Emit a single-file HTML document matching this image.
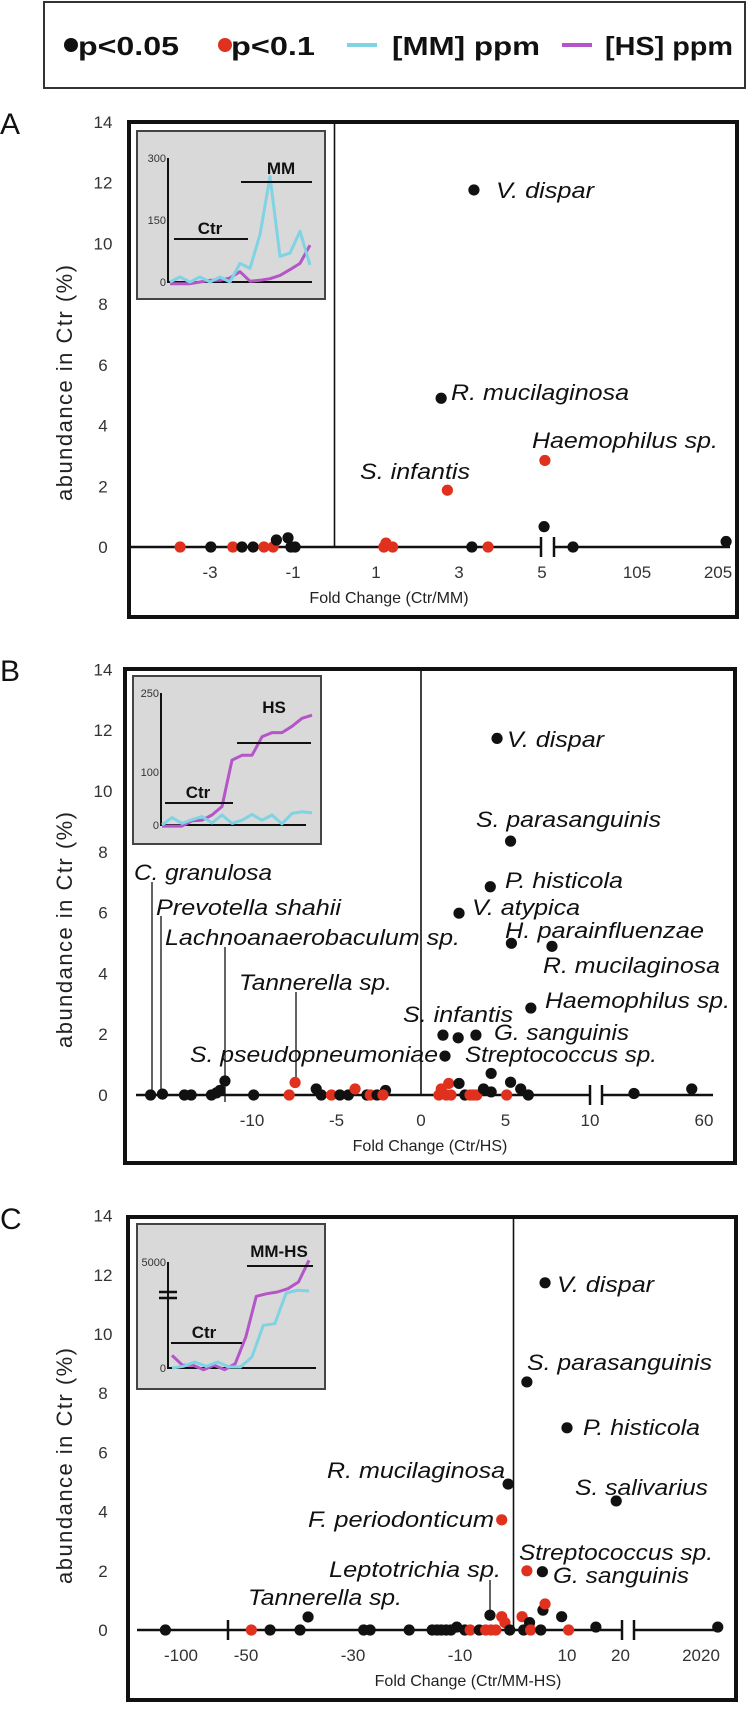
<!DOCTYPE html>
<html><head><meta charset="utf-8">
<style>
html,body{margin:0;padding:0;background:#fff;}
svg{display:block;font-family:"Liberation Sans",Arial,sans-serif;}
.tk{font-size:17px;fill:#333;}
.lab{font-size:22px;font-style:italic;fill:#111;}
.ib{font-size:17px;font-weight:bold;fill:#111;}
.it{font-size:11px;fill:#333;}
</style></head>
<body>
<svg id="fig" width="748" height="1717" viewBox="0 0 748 1717" xmlns="http://www.w3.org/2000/svg">
  <g>
    <rect x="44" y="2" width="701" height="86" fill="#fff" stroke="#333" stroke-width="2"/>
    <circle cx="71" cy="45" r="7" fill="#111"/>
    <text x="78" y="55" font-size="26" font-weight="bold" fill="#111" textLength="101" lengthAdjust="spacingAndGlyphs">p&lt;0.05</text>
    <circle cx="225" cy="45" r="7" fill="#e0301e"/>
    <text x="231" y="55" font-size="26" font-weight="bold" fill="#111" textLength="84" lengthAdjust="spacingAndGlyphs">p&lt;0.1</text>
    <line x1="347" y1="45" x2="377" y2="45" stroke="#7fd3e3" stroke-width="4"/>
    <text x="392" y="55" font-size="26" font-weight="bold" fill="#111" textLength="148" lengthAdjust="spacingAndGlyphs">[MM] ppm</text>
    <line x1="562" y1="45" x2="592" y2="45" stroke="#b455c8" stroke-width="4"/>
    <text x="605" y="55" font-size="26" font-weight="bold" fill="#111" textLength="128" lengthAdjust="spacingAndGlyphs">[HS] ppm</text>
  </g>
  <g id="pA"></g>
  <g id="pB"></g>
  <g id="pC"></g>
</svg>
<script>
// ---------- Panel A data ----------
const aX = [-3.72,-2.98,-2.45,-2.23,-1.96,-1.70,-1.48,-1.4,-1.12,-1.05,-0.95,1.19,1.24,1.4,3.31,3.7,2.72,5.07,5.05,26,215,3.36,2.57];
const aY = [0,0,0,0,0,0,0,0.23,0.3,0,0,0,0.13,0,0,0,1.87,2.85,0.67,0,0.18,11.76,4.9];
const aSig = [0,1,0,1,1,0,0,1,1,1,1,0,0,0,1,0,0,0,1,1,1,1,1];
const aTicks = [-3,-1,1,3,5,105,205];
const aInsetCyan = [0,12,0,12,0,12,0,45,33,115,255,62,70,123,41];
const aInsetPurple = [-4,-4,-4,0,4,4,10,25,2,4,8,16,30,45,89];

// ---------- Panel B data ----------
const bX = [-16,-15.3,-14,-13.6,-12.4,-12.1,-11.9,-11.6,-9.9,-7.8,-7.45,-6.2,-5.9,-5.3,-4.8,-4.3,-3.9,-3.2,-3.0,-2.6,-2.1,-2.25,1.06,1.2,1.5,1.64,1.77,2.25,2.6,2.9,3.1,3.3,3.7,4.15,4.15,5.07,5.3,5.9,6.35,25.7,54,
            4.5,5.3,4.1,2.25,5.35,7.75,6.5,1.3,2.2,3.25,1.42];
const bY = [0,0.03,0,0,0,0.07,0.15,0.46,0,0,0.41,0.2,0,0,0,0,0.2,0,0,0,0.15,0,0,0.2,0,0.38,0,0.38,0,0,0,0,0.2,0.71,0.1,0,0.42,0.2,0,0.05,0.2,
            11.73,8.35,6.85,5.98,4.99,4.89,2.86,1.97,1.88,1.97,1.28];
const bSig = [1,1,1,1,1,1,1,1,1,0,0,1,1,0,1,1,0,1,0,1,1,0,0,0,0,0,0,1,1,0,0,0,1,1,1,0,1,1,1,1,1,
              1,1,1,1,1,1,1,1,1,1,1];
const bTicks = [-10,-5,0,5,10,60];
const bInsetPurple = [-2,-2,-2,8,9,19,35,123,132,132,167,175,175,187,202,208];
const bInsetCyan = [0,14,3,10,16,4,19,3,9,20,9,19,2,22,25,23];

// ---------- Panel C data ----------
const cX = [-115,-49,-45.5,-39.9,-38.4,-28,-26.8,-19.5,-15.2,-14.3,-13.5,-12.6,-11.7,-10.6,-9.1,-8.1,-6.4,-5.2,-4.2,-4.4,-3.3,-2.2,-1.6,-0.7,1.6,1.9,3.0,3.2,5.1,5.5,5.9,9.0,10.3,15.4,2520,
            5.9,2.5,10.0,-1.0,19.2,-2.2,2.5,5.4];
const cY = [0,0,0,0,0.44,0,0,0,0,0,0,0,0,0.1,0,0,0,0,0,0.5,0,0.45,0.25,0,0.45,0,0.25,0,0,0.67,0.88,0.45,0,0.1,0.1,
            11.73,8.38,6.83,4.93,4.36,3.72,2.0,1.97];
const cSig = [1,0,1,1,1,1,1,1,1,1,1,1,1,1,1,0,1,0,0,1,0,0,0,1,0,1,1,0,1,1,0,1,0,1,1,
              1,1,1,1,1,0,0,1];
const cTicks = [-100,-50,-30,-10,10,20,2020];
const cInsetPurple = [597,126,126,-79,126,-79,204,1462,3380,3506,3585,3742,4057,5079];
const cInsetCyan = [0,79,283,79,283,47,47,519,2013,2091,3538,3664,3632];

const NS = "http://www.w3.org/2000/svg";
function mk(parent, tag, attrs, text){
  const e = document.createElementNS(NS, tag);
  for (const k in attrs) e.setAttribute(k, attrs[k]);
  if (text !== undefined) e.textContent = text;
  parent.appendChild(e);
  return e;
}

const aXs = v => v <= 5.5 ? 376 + 41.5*(v-1) : 556 + (v-5)*0.81;
const aYs = v => 547 - 30.36*v;
const bXs = v => v <= 10 ? 421 + 16.9*v : 602 + (v-10)*2.04;
const bYs = v => 1095 - 30.4*v;
const cXs = v => v < -55 ? 181 + (v+100)*1.04 : (v <= 20 ? 513.5 + 5.35*v : 634 + (v-20)*0.0335);
const cYs = v => 1630 - 29.6*v;

function panel(g, o){
  const letter = mk(g,'text',{x:0,y:o.top+12,'font-size':30,fill:'#111'},o.letter);
  
  
  const box = mk(g,'rect',{x:o.left,y:o.top,width:o.right-o.left,height:o.bottom-o.top,fill:'#fff',stroke:'#111','stroke-width':4});
  
  
  for (let v=0; v<=14; v+=2){
    const t = mk(g,'text',{x:103,y:o.ys(v)+6,'text-anchor':'middle',class:'tk'},String(v));
    
    
  }
  const yt = mk(g,'text',{x:0,y:0,'font-size':22,fill:'#222','text-anchor':'middle',transform:`translate(72,${o.ytitleY}) rotate(-90)`,textLength:236},'abundance in Ctr (%)');
  
  
  const dv = mk(g,'line',{x1:o.xs(0),y1:o.top+2,x2:o.xs(0),y2:o.ys(0),stroke:'#111','stroke-width':1.6});
  
  
  o.segs.forEach(s=>{
    const l = mk(g,'line',{x1:s[0],y1:o.ys(0),x2:s[1],y2:o.ys(0),stroke:'#111','stroke-width':2.5});
    
    
  });
  o.marks.forEach(m=>{
    const l = mk(g,'line',{x1:m,y1:o.ys(0)-10,x2:m,y2:o.ys(0)+10,stroke:'#111','stroke-width':2.5});
    
    
  });
  o.ticks.forEach(v=>{
    const t = mk(g,'text',{x:o.xs(v),y:o.ys(0)+31,'text-anchor':'middle',class:'tk'},String(v));
    
    
  });
  const xt = mk(g,'text',{x:o.xtitleX,y:o.ys(0)+56,'text-anchor':'middle','font-size':16,fill:'#222'},o.xtitle);
  
  
  o.leaders.forEach(L=>{
    const l = mk(g,'line',{x1:L[0],y1:L[1],x2:L[0],y2:L[2],stroke:'#111','stroke-width':1.3});
    
    
  });
  o.X.forEach((v,i)=>{
    const c = mk(g,'circle',{cx:o.xs(v),cy:o.ys(o.Y[i]),r:5.6,fill:o.S[i]?'#111':'#e0301e'});
    
    
  });
  o.labels.forEach(L=>{
    const t = mk(g,'text',{x:L[1],y:L[2],class:'lab',textLength:L[3]-L[1],lengthAdjust:'spacingAndGlyphs'},L[0]);
    
    
  });
}

function inset(g, o){
  const ig = mk(g,'g',{});
  
  
  const r = mk(ig,'rect',{x:o.box[0],y:o.box[1],width:o.box[2]-o.box[0],height:o.box[3]-o.box[1],fill:'#d9d9d9',stroke:'#444','stroke-width':2});
  
  
  const ys = v => o.y0 - (v/o.vmax)*(o.y0-o.yTop);
  const ax = mk(ig,'path',{d:`M${o.ax} ${o.yTop}V${o.y0}H${o.axR}`,fill:'none',stroke:'#111','stroke-width':2});
  
  
  o.ticks.forEach(t=>{
    const e = mk(ig,'text',{x:o.ax-2,y:ys(t[0])+4,'text-anchor':'end',class:'it'},t[1]);
    
    
  });
  if (o.brk){
    const b = mk(ig,'path',{d:`M${o.ax-9} ${o.brk-3}h18M${o.ax-9} ${o.brk+3}h18`,stroke:'#111','stroke-width':2.5});
    
    
  }
  o.series.forEach(s=>{
    const n = s.vals.length;
    const pts = s.vals.map((v,i)=>[s.x0 + (s.x1-s.x0)*i/(n-1), ys(v)]);
    const p = mk(ig,'polyline',{points:pts.map(p=>p[0].toFixed(1)+','+p[1].toFixed(1)).join(' '),fill:'none',stroke:s.color,'stroke-width':3,'stroke-linejoin':'round'});
    
    
  });
  o.bars.forEach(b=>{
    const l = mk(ig,'line',{x1:b[1],y1:b[3],x2:b[2],y2:b[3],stroke:'#111','stroke-width':2});
    
    
    const t = mk(ig,'text',{x:b[4],y:b[5],'text-anchor':'middle',class:'ib'},b[0]);
    
    
  });
}

panel(document.getElementById('pA'),{
  letter:'A', left:129, top:122, right:737, bottom:617, xs:aXs, ys:aYs, ytitleY:383,
  segs:[[131,541],[554,730]], marks:[541,554], ticks:aTicks, xtitle:'Fold Change (Ctr/MM)', xtitleX:389,
  leaders:[], X:aX, Y:aY, S:aSig,
  labels:[['V. dispar',496,198,594],['R. mucilaginosa',451,400,629],['Haemophilus sp.',532,448,718],['S. infantis',360,479,470]]
});
inset(document.getElementById('pA'),{
  box:[137,131,325,299], ax:168, axR:312, y0:282, yTop:158, vmax:300,
  ticks:[[300,'300'],[150,'150'],[0,'0']],
  series:[{name:'inset-hs-line',color:'#b455c8',vals:aInsetPurple,x0:170,x1:310},
          {name:'inset-mm-line',color:'#7fd3e3',vals:aInsetCyan,x0:170,x1:310}],
  bars:[['MM',241,312,182,281,174],['Ctr',174,248,239,210,234]]
});

panel(document.getElementById('pB'),{
  letter:'B', left:125, top:669, right:735, bottom:1163, xs:bXs, ys:bYs, ytitleY:930,
  segs:[[136,590],[602,713]], marks:[590,602], ticks:bTicks, xtitle:'Fold Change (Ctr/HS)', xtitleX:430,
  leaders:[[152,882,1095],[161,916,1095],[225,947,1102],[296,992,1083]], X:bX, Y:bY, S:bSig,
  labels:[['V. dispar',507,747,604],['S. parasanguinis',476,827,661],['P. histicola',505,888,623],['V. atypica',472,915,580],
          ['H. parainfluenzae',505,938,704],['R. mucilaginosa',543,973,720],['Haemophilus sp.',545,1008,730],['S. infantis',403,1022,513],
          ['G. sanguinis',494,1040,629],['Streptococcus sp.',465,1062,657],['S. pseudopneumoniae',190,1062,438],['Tannerella sp.',239,990,392],
          ['Lachnoanaerobaculum sp.',165,945,460],['Prevotella shahii',156,915,341],['C. granulosa',134,880,272]]
});
inset(document.getElementById('pB'),{
  box:[133,676,321,844], ax:161, axR:306, y0:825, yTop:693, vmax:250,
  ticks:[[250,'250'],[100,'100'],[0,'0']],
  series:[{name:'inset-hs-line',color:'#b455c8',vals:bInsetPurple,x0:162,x1:312},
          {name:'inset-mm-line',color:'#7fd3e3',vals:bInsetCyan,x0:162,x1:312}],
  bars:[['HS',237,311,743,274,713],['Ctr',165,233,803,198,798]]
});

panel(document.getElementById('pC'),{
  letter:'C', left:128, top:1217, right:736, bottom:1700, xs:cXs, ys:cYs, ytitleY:1466,
  segs:[[137,622],[634,718]], marks:[228,622,634], ticks:cTicks, xtitle:'Fold Change (Ctr/MM-HS)', xtitleX:468,
  leaders:[[490,1580,1615]], X:cX, Y:cY, S:cSig,
  labels:[['V. dispar',557,1292,654],['S. parasanguinis',527,1370,712],['P. histicola',583,1435,700],['R. mucilaginosa',327,1478,505],
          ['S. salivarius',575,1495,708],['F. periodonticum',308,1527,494],['Streptococcus sp.',519,1560,713],['G. sanguinis',553,1583,689],
          ['Leptotrichia sp.',329,1577,501],['Tannerella sp.',248,1605,402]]
});
inset(document.getElementById('pC'),{
  box:[137,1224,325,1389], ax:168, axR:316, y0:1368, yTop:1262, vmax:5000, brk:1295,
  ticks:[[5000,'5000'],[0,'0']],
  series:[{name:'inset-hs-line',color:'#b455c8',vals:cInsetPurple,x0:172,x1:309},
          {name:'inset-mm-line',color:'#7fd3e3',vals:cInsetCyan,x0:172,x1:309}],
  bars:[['MM-HS',247,313,1266,279,1257],['Ctr',171,242,1343,204,1338]]
});
</script>
</body></html>
